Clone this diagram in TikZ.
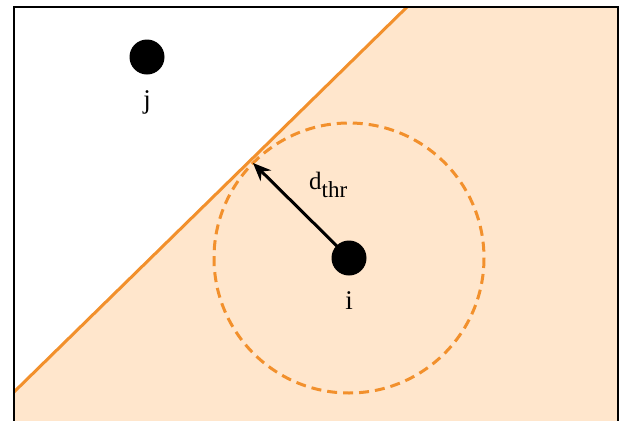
\documentclass[tikz,border=0pt]{standalone}
\usepackage{fontspec}
\setmainfont{Liberation Serif}
\usetikzlibrary{arrows.meta}
\definecolor{zoneorange}{RGB}{242,144,44}
\definecolor{zonefill}{RGB}{255,230,204}

\tikzset{
    agent/.style={circle, fill=black, inner sep=0pt, minimum size=35pt},
    lbl/.style={font=\fontsize{27}{32}\selectfont, inner sep=0pt},
    zone/.style={zoneorange, line width=3pt},
}

\begin{document}
\begin{tikzpicture}[x=1pt, y=-1pt]
\useasboundingbox (0,0) rectangle (625,421);

% half plane and frame
\coordinate (lineleft) at (14,392);
\coordinate (linetop) at (407,7);
\fill[zonefill] (lineleft) -- (linetop) -- (618,7) -- (618,430) -- (14,430) -- cycle;
\draw[zone] (lineleft) -- (linetop);
\draw[line width=2.5pt] (14,430) -- (14,7) -- (618,7) -- (618,430);

% agents
\node[agent] (i) at (349,258) {};
\node[agent] (j) at (147,57) {};
\node[lbl, anchor=base] (ilabel) at (349,309) {i};
\node[lbl, anchor=base] (jlabel) at (147,108) {j};

% threshold circle
\draw[zone, dashed, dash pattern=on 10pt off 6pt] (i.center) circle (135);
\coordinate (touch) at (253,163);
\draw[-{Stealth[length=18pt,width=15pt]}, line width=3pt] (i.center) -- (touch);
\node[lbl, anchor=base west, font=\fontsize{25}{30}\selectfont] (dthr) at (309,189) {d\raisebox{-8pt}{\fontsize{23}{26}\selectfont thr}};
\end{tikzpicture}
\end{document}
